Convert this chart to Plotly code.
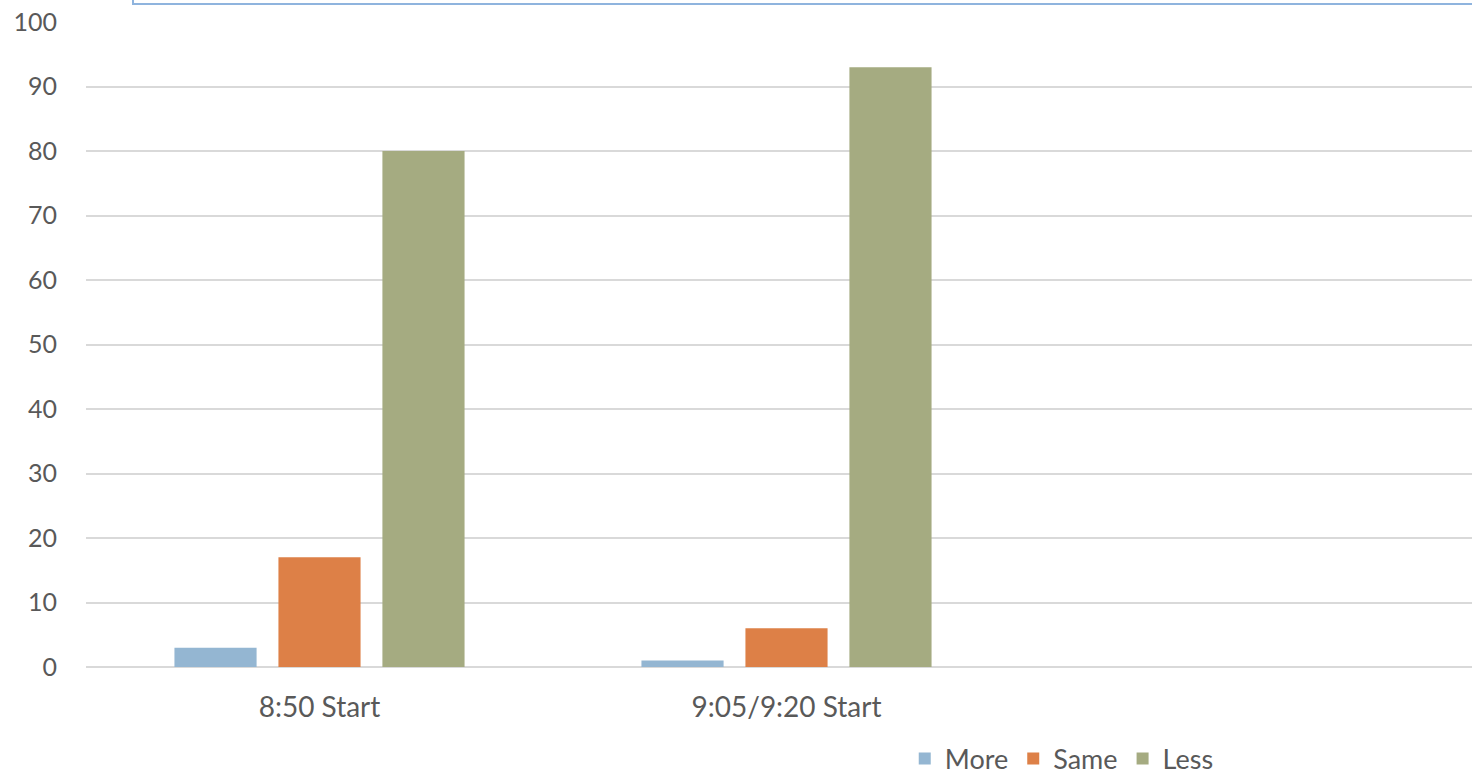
import plotly.graph_objects as go

categories = ["8:50 Start", "9:05/9:20 Start"]
series_names = ["More", "Same", "Less"]
more_vals = [3, 1]
same_vals = [17, 6]
less_vals = [80, 93]
colors = ["#94B6D2", "#DD8047", "#A5AB81"]
y_ticks = [0, 10, 20, 30, 40, 50, 60, 70, 80, 90, 100]

W, H = 1472, 775
ML, MR, MT, MB = 86, 0, 22, 108
cat_px = 467.0
plot_w = W - ML - MR
plot_h = H - MT - MB

fig = go.Figure()
for name, vals, col in zip(series_names, [more_vals, same_vals, less_vals], colors):
    fig.add_trace(go.Bar(name=name, x=categories, y=vals, marker=dict(color=col, line=dict(width=0))))

font_fam = "Lato, 'Open Sans', sans-serif"
fig.update_layout(
    width=W, height=H,
    margin=dict(l=ML, r=MR, t=MT, b=MB, pad=0, autoexpand=False),
    paper_bgcolor="white", plot_bgcolor="white",
    barmode="group", bargap=0.332, bargroupgap=0.21,
    font=dict(family=font_fam, color="#595959", size=24),
    showlegend=True,
    legend=dict(orientation="h", x=0.704, xanchor="center", y=(667 - 759) / plot_h, yanchor="middle",
                font=dict(size=27, color="#595959"), itemwidth=30, traceorder="normal",
                bgcolor="rgba(0,0,0,0)"),
    xaxis=dict(type="category", range=[-0.5, -0.5 + plot_w / cat_px], showgrid=False,
               showline=False, zeroline=False, ticks="", ticklabelstandoff=21, automargin=False,
               tickfont=dict(size=28, color="#595959")),
    yaxis=dict(range=[0, 100], tickvals=y_ticks, showgrid=True, gridcolor="#D9D9D9",
               gridwidth=1.5, zeroline=True, zerolinecolor="#D9D9D9", zerolinewidth=1.5,
               showline=False, ticks="", ticklabelstandoff=28, automargin=False,
               tickfont=dict(size=25, color="#595959")),
)

fig.add_shape(type="rect", xref="paper", yref="paper",
              x0=(133 - ML) / plot_w, x1=1.05,
              y0=(H - MB - 4) / plot_h, y1=1.2,
              line=dict(color="#8FB4DE", width=2), fillcolor="rgba(0,0,0,0)", layer="above")

fig.write_html("out.html", config={"displayModeBar": False},
               post_script="document.body.style.margin='0';document.body.style.overflow='hidden';")
